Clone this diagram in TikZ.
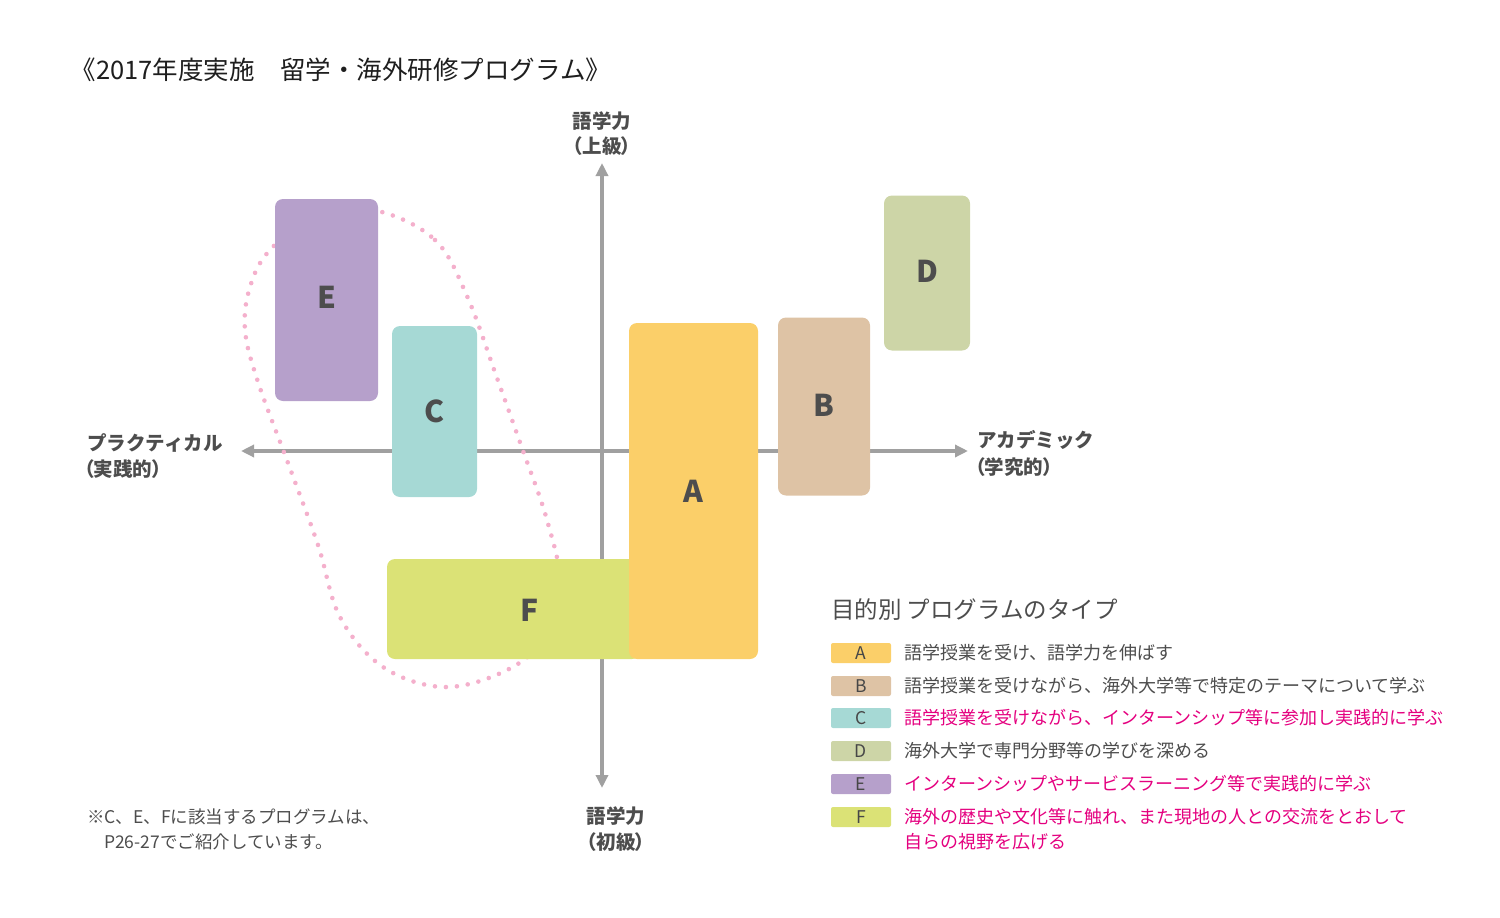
\documentclass[tikz,border=0pt]{standalone}
\usepackage{fontspec}
\setmainfont{Noto Sans CJK JP}
\newfontfamily\pfont{Noto Sans CJK JP}[RawFeature=+palt]
\usetikzlibrary{arrows.meta}
\definecolor{cE}{HTML}{B6A0CB}
\definecolor{cC}{HTML}{A6D9D5}
\definecolor{cF}{HTML}{DBE276}
\definecolor{cA}{HTML}{FBCF69}
\definecolor{cB}{HTML}{DEC3A5}
\definecolor{cD}{HTML}{CDD5A7}
\definecolor{dotpink}{HTML}{F4B0CC}
\definecolor{axisgray}{HTML}{A0A0A0}
\definecolor{txtgray}{HTML}{4D4D4D}
\definecolor{magent}{HTML}{E4007F}
\definecolor{titlecol}{HTML}{1E1E1E}
\newcommand{\lp}{{\pfont （}}
\newcommand{\rp}{{\pfont ）}}
\tikzset{
  prog/.style={rounded corners=8pt, inner sep=0pt, text=txtgray,
    font=\fontsize{30}{30}\selectfont\bfseries},
  axisline/.style={draw=axisgray, line width=4pt,
    {Triangle[width=12pt,length=13pt]}-{Triangle[width=12pt,length=13pt]}},
  axlabel/.style={inner sep=0pt, text=txtgray, font=\fontsize{19.5}{22}\selectfont\bfseries},
  swatch/.style={rounded corners=2pt, minimum width=60pt, minimum height=20pt, inner sep=0pt,
    text=black!72, font=\fontsize{17.5}{17.5}\selectfont},
  legtext/.style={anchor=west, inner sep=0pt, font=\fontsize{18}{22}\selectfont},
  notetext/.style={anchor=west, inner sep=0pt, text=txtgray, font=\fontsize{17.5}{20}\selectfont},
  loop/.style={draw=dotpink, line width=4.6pt, line cap=round, dash pattern=on 0pt off 11pt},
}
\begin{document}
\begin{tikzpicture}[x=1pt,y=-1pt]
\useasboundingbox (0,0) rectangle (1500,918);
% title
\node[anchor=west, inner sep=0pt, text=titlecol, font=\fontsize{25.5}{28}\selectfont] (title) at (70.5,70)
  {《2017年度実施　留学・海外研修プログラム》};
% axes
\coordinate (top) at (602,163);
\coordinate (bottom) at (602,788);
\coordinate (left) at (241,451);
\coordinate (right) at (968,451);
\draw[axisline] (left) -- (right);
\draw[axisline] (bottom) -- (top);
% axis labels
\node[axlabel] (ytop1) at (602,121) {語学力};
\node[axlabel] (ytop2) at (602,146) {\lp 上級\rp};
\node[axlabel] (ybot1) at (616,816) {語学力};
\node[axlabel] (ybot2) at (616,842) {\lp 初級\rp};
\node[axlabel, anchor=west] (xl1) at (87,443) {プラクティカル};
\node[axlabel, anchor=west] (xl2) at (84,469) {\lp 実践的\rp};
\node[axlabel, anchor=west] (xr1) at (977,440) {アカデミック};
\node[axlabel, anchor=west] (xr2) at (975,467) {\lp 学究的\rp};
% dotted loop
\draw[loop] plot[smooth cycle, tension=0.6] coordinates {
  (378,211) (435,240) (467,296) (497,378) (522,448) (547,520) (560,585) (543,640)
  (503,672) (443,687) (383,667) (340,617) (318,545) (288,463) (258,382)
  (245,330) (250,287) (270,250) (320,212)};
% boxes
\node[prog, fill=cE, minimum width=103pt, minimum height=202pt] (E) at (326.5,300) {\raisebox{6pt}{E}};
\node[prog, fill=cC, minimum width=85pt, minimum height=171pt] (C) at (434.5,411.5) {C};
\node[prog, fill=cF, minimum width=253pt, minimum height=100pt] (Fbox) at (513.5,609) {};
\node[prog, fill=cA, minimum width=129pt, minimum height=336pt] (A) at (693.5,491) {A};
\node[prog] (F) at (530,610) {F};
\node[prog, fill=cB, minimum width=92pt, minimum height=178pt] (B) at (824,406.5) {\raisebox{3pt}{B}};
\node[prog, fill=cD, minimum width=86pt, minimum height=155pt] (D) at (927,273) {\raisebox{3pt}{D}};
% legend
\node[anchor=west, inner sep=0pt, text=txtgray, font=\fontsize{23.5}{26}\selectfont] (legtitle) at (831,610)
  {目的別 プログラムのタイプ};
\node[swatch, fill=cA] (sA) at (861,653) {A};
\node[swatch, fill=cB] (sB) at (861,686) {B};
\node[swatch, fill=cC] (sC) at (861,718) {C};
\node[swatch, fill=cD] (sD) at (861,751) {D};
\node[swatch, fill=cE] (sE) at (861,784) {E};
\node[swatch, fill=cF] (sF) at (861,817) {F};
\node[legtext, text=txtgray] (tA) at (904,653) {語学授業を受け、語学力を伸ばす};
\node[legtext, text=txtgray] (tB) at (904,686) {語学授業を受けながら、海外大学等で特定のテーマについて学ぶ};
\node[legtext, text=magent] (tC) at (904,718) {語学授業を受けながら、インターンシップ等に参加し実践的に学ぶ};
\node[legtext, text=txtgray] (tD) at (904,751) {海外大学で専門分野等の学びを深める};
\node[legtext, text=magent] (tE) at (904,784) {インターンシップやサービスラーニング等で実践的に学ぶ};
\node[legtext, text=magent] (tF1) at (904,817) {海外の歴史や文化等に触れ、また現地の人との交流をとおして};
\node[legtext, text=magent] (tF2) at (904,842) {自らの視野を広げる};
% note
\node[notetext] (note1) at (87,817) {※C、E、Fに該当するプログラムは、};
\node[notetext] (note2) at (104,842) {P26-27でご紹介しています。};
\end{tikzpicture}
\end{document}
